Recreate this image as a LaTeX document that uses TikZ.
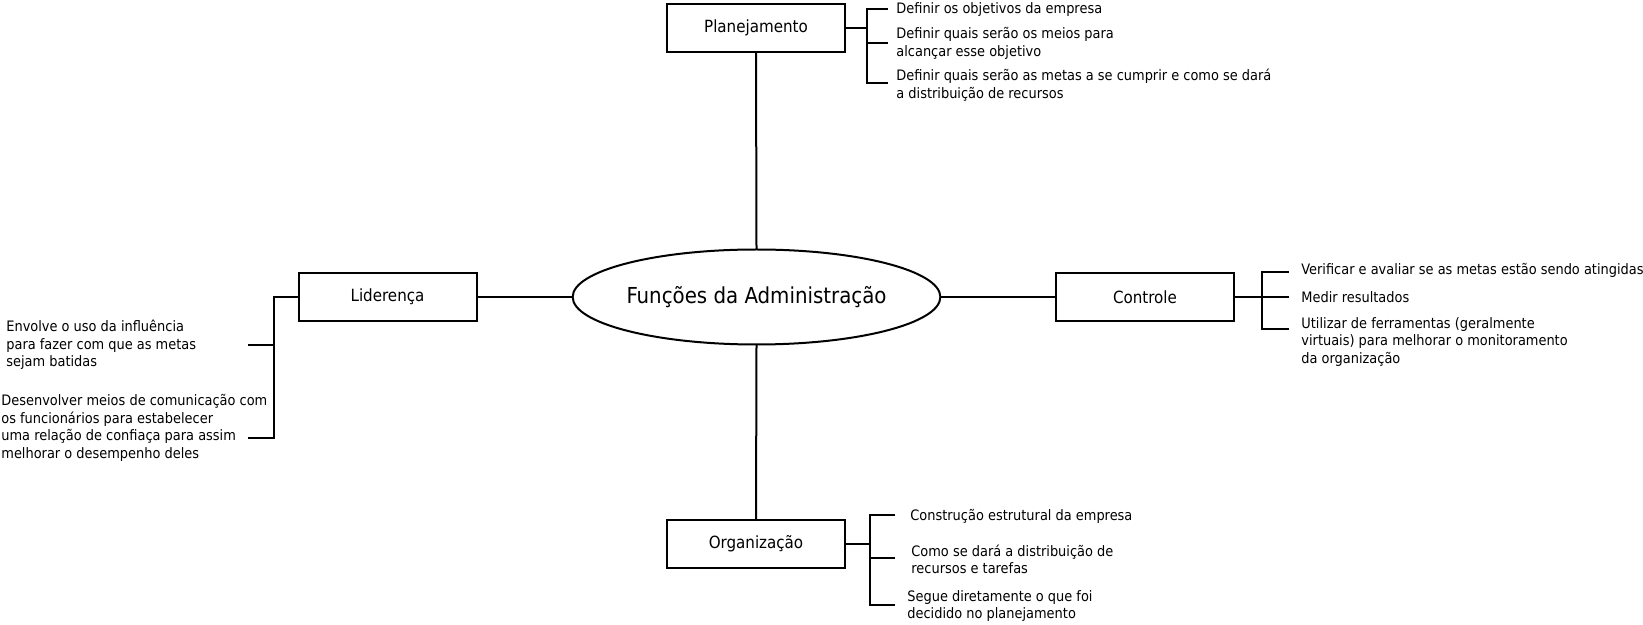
\documentclass[tikz,border=0pt]{standalone}
\usepackage{fontspec}
\setmainfont{DejaVu Sans Condensed}
\usetikzlibrary{shapes.geometric}
\begin{document}
\begin{tikzpicture}[x=0.5pt,y=-0.5pt,
  box/.style={draw,line width=1pt,minimum width=89pt,minimum height=24pt,inner sep=0pt,outer sep=0pt,font=\fontsize{8.4}{10}\selectfont},
  conn/.style={line width=1pt},
  item/.style={align=left,inner sep=0pt,font=\fontsize{7.2}{8.75}\selectfont,anchor=west},
  center/.style={ellipse,draw,line width=1pt,minimum width=161.5pt,minimum height=47.5pt,inner sep=0pt,outer sep=0pt,font=\fontsize{11}{13}\selectfont}
  ]
\useasboundingbox (0,0) rectangle (1643,625);
\fill[white] (0,0) rectangle (1643,625);

% central node and boxes
\node[center] (c) at (756.5,297) {Funções da Administração};
\node[box] (plan) at (756,28) {Planejamento};
\node[box] (lid) at (387.5,297) {Liderença};
\node[box] (ctrl) at (1145,297) {Controle};
\node[box] (org) at (756,544) {Organização};

\draw[conn] (plan.south) -- (c.north);
\draw[conn] (org.north) -- (c.south);
\draw[conn] (lid.east) -- (c.west);
\draw[conn] (c.east) -- (ctrl.west);

% Planejamento items
\node[item] (p1) at (896,9.3) {Definir os objetivos da empresa};
\node[item] (p2) at (896,43.5) {Definir quais serão os meios para\\alcançar esse objetivo};
\node[item] (p3) at (896,85) {Definir quais serão as metas a se cumprir e como se dará\\a distribuição de recursos};
\coordinate (pj) at (867,28);
\coordinate (pt1) at (888,9.3);
\coordinate (pt2) at (888,43.3);
\coordinate (pt3) at (888,83.3);
\draw[conn] (plan.east) -- (pj);
\draw[conn] (pt1) -- (pt1 -| pj) -- (pt3 -| pj) -- (pt3);
\draw[conn] (pt2) -- (pt2 -| pj);

% Controle items
\node[item] (c1) at (1301,270) {Verificar e avaliar se as metas estão sendo atingidas};
\node[item] (c2) at (1301,297) {Medir resultados};
\node[item] (c3) at (1301,342) {Utilizar de ferramentas (geralmente\\virtuais) para melhorar o monitoramento\\da organização};
\coordinate (cj) at (1262,297);
\coordinate (ct1) at (1289,272);
\coordinate (ct2) at (1289,297);
\coordinate (ct3) at (1289,329);
\draw[conn] (ctrl.east) -- (cj);
\draw[conn] (ct1) -- (ct1 -| cj) -- (ct3 -| cj) -- (ct3);
\draw[conn] (cj) -- (ct2);

% Organizacao items
\node[item] (o1) at (910,516.6) {Construção estrutural da empresa};
\node[item] (o2) at (911,559.5) {Como se dará a distribuição de\\recursos e tarefas};
\node[item] (o3) at (907,606) {Segue diretamente o que foi\\decidido no planejamento};
\coordinate (oj) at (870,544);
\coordinate (ot1) at (895,515);
\coordinate (ot2) at (895,558);
\coordinate (ot3) at (895,605);
\draw[conn] (org.east) -- (oj);
\draw[conn] (ot1) -- (ot1 -| oj) -- (ot3 -| oj) -- (ot3);
\draw[conn] (ot2) -- (ot2 -| oj);

% Liderenca items
\node[item] (l1) at (6,345) {Envolve o uso da influência\\para fazer com que as metas\\sejam batidas};
\node[item] (l2) at (1,428) {Desenvolver meios de comunicação com\\os funcionários para estabelecer\\uma relação de confiaça para assim\\melhorar o desempenho deles};
\coordinate (lj) at (274,297);
\coordinate (lt1) at (248,345);
\coordinate (lt2) at (248,438);
\draw[conn] (lid.west) -- (lj) -- (lt2 -| lj) -- (lt2);
\draw[conn] (lt1) -- (lt1 -| lj);
\end{tikzpicture}
\end{document}
